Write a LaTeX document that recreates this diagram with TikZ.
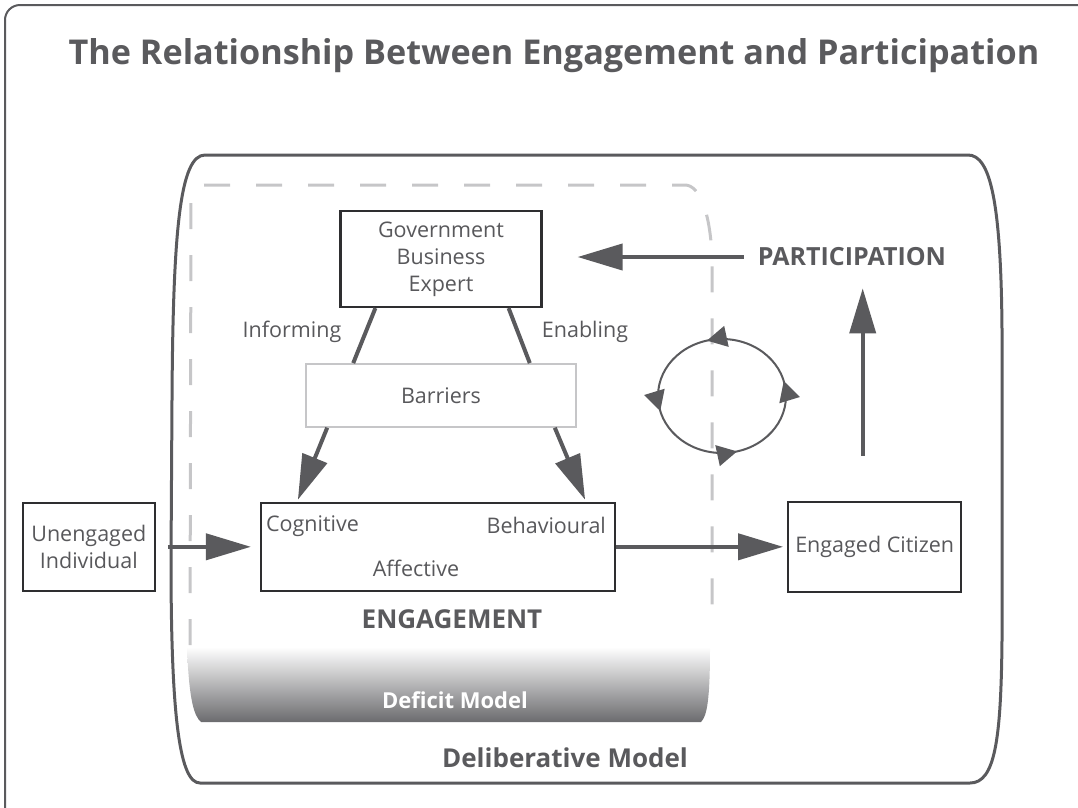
\documentclass[tikz,border=0pt]{standalone}
\usepackage{fontspec}
\setmainfont{Open Sans}
\usetikzlibrary{arrows.meta,positioning,decorations.markings}
\definecolor{EngGrey}{HTML}{5A5A5D}
\definecolor{EngDark}{HTML}{2E2E30}
\definecolor{EngLight}{HTML}{C6C6C8}
\definecolor{EngText}{HTML}{58585B}
\definecolor{EngShade}{HTML}{6B6B6E}

\begin{document}
\begin{tikzpicture}[
  x=1pt, y=-1pt,
  box/.style={draw=EngDark, line width=2.2pt, text=EngText, align=center, inner sep=0pt, font=\fontsize{21.5}{27}\selectfont},
  barrier/.style={box, draw=EngLight, line width=1.6pt},
  tag/.style={text=EngText, inner sep=2pt, font=\fontsize{21.5}{25}\selectfont},
  heading/.style={text=EngGrey, inner sep=2pt, font=\fontsize{25}{28}\selectfont\bfseries},
  frame/.style={draw=EngGrey, line width=3pt},
  link/.style={draw=EngGrey, line width=4pt},
  arrow/.style={-{Triangle[length=45pt,width=26pt]}, line width=4pt, draw=EngGrey},
  loopy/.style={draw=EngGrey, line width=2pt, postaction={decorate},
    decoration={markings,
      mark=at position 0.04 with {\arrow{Triangle[length=20pt,width=21pt]}},
      mark=at position 0.29 with {\arrow{Triangle[length=20pt,width=21pt]}},
      mark=at position 0.54 with {\arrow{Triangle[length=20pt,width=21pt]}},
      mark=at position 0.79 with {\arrow{Triangle[length=20pt,width=21pt]}}}}
]
  \useasboundingbox (0,0) rectangle (1078,807);
  \clip (0,0) rectangle (1078,807);
  \draw[draw=EngGrey, line width=2pt, rounded corners=15pt] (5,5) rectangle (1100,830);
  \node[heading, font=\fontsize{34.2}{40}\selectfont\bfseries] (title) at (554,56) {The Relationship Between Engagement and Participation};

  % deliberative model frame
  \draw[frame] (205,155) -- (968,155) .. controls (990,155) and (1001,200) .. (1002,330)
    -- (1002,640) .. controls (1001,740) and (995,783) .. (970,783)
    -- (200,783) .. controls (180,783) and (171,720) .. (171,560)
    -- (172,400) .. controls (173,230) and (180,155) .. (205,155) -- cycle;
  % deficit model, dashed and shaded
  \draw[draw=EngLight, line width=3pt, dash pattern=on 26pt off 26pt]
    (190,645) -- (191,200) .. controls (191,190) and (194,185) .. (205,185)
    -- (685,185) .. controls (700,185) and (711,215) .. (712,260) -- (712,622);
  \shade[top color=white, bottom color=EngShade] (187,647) -- (710,647)
    .. controls (710,700) and (707,716) .. (701,722) -- (201,722)
    .. controls (194,716) and (189,700) .. (187,647) -- cycle;

  \node[box, minimum width=201pt, minimum height=96pt] (gov) at (441,259) {Government\\Business\\Expert};
  \node[barrier, minimum width=270pt, minimum height=63pt, below=55pt of gov] (barriers) {Barriers};
  \node[box, minimum width=354pt, minimum height=88pt, below=74pt of barriers, xshift=-3pt] (engage) {};
  \node[box, minimum width=132pt, minimum height=88pt, left=104pt of engage] (unengaged) {Unengaged\\Individual};
  \node[box, minimum width=173pt, minimum height=90pt, right=171pt of engage] (citizen) {Engaged Citizen};
  \node[tag, anchor=west] (cognitive) at ([xshift=4pt,yshift=-24pt]engage.north west) {Cognitive};
  \node[tag, anchor=east] (behavioural) at ([xshift=-8pt,yshift=-24pt]engage.north east) {Behavioural};
  \node[tag] (affective) at ([xshift=-22pt,yshift=-22pt]engage.center) {Affective};
  \node[tag] (informing) at (292,332) {Informing};
  \node[tag] (enabling) at (585,332) {Enabling};
  \node[heading] (participation) at (852,257) {PARTICIPATION};
  \node[heading, font=\fontsize{26}{28}\selectfont\bfseries] (engagement) at (452,619) {ENGAGEMENT};
  \node[heading, text=white, font=\fontsize{22}{26}\selectfont\bfseries] (deficit) at (455,700) {Deficit Model};
  \node[heading, font=\fontsize{26}{28}\selectfont\bfseries] (deliberative) at (565,758) {Deliberative Model};

  \draw[link] ([xshift=36pt]gov.south west) -- ([xshift=48pt]barriers.north west);
  \draw[link] ([xshift=-34pt]gov.south east) -- ([xshift=-47pt]barriers.north east);
  \draw[arrow] ([xshift=22pt]barriers.south west) -- ([xshift=38pt,yshift=2pt]engage.north west);
  \draw[arrow] ([xshift=-22pt]barriers.south east) -- ([xshift=-31pt,yshift=2pt]engage.north east);
  \draw[arrow, shorten <=12pt, shorten >=9pt] (unengaged) -- (engage);
  \draw[arrow, shorten >=4pt] (engage) -- (citizen);
  \draw[arrow, shorten <=12pt, shorten >=35pt] (participation.west) -- (participation.west -| gov.east);
  \coordinate (rise) at ([xshift=-12pt]citizen.north);
  \draw[arrow, shorten <=45pt, shorten >=20pt] (rise) -- (rise |- participation.south);

  % the engagement cycle
  \coordinate (loopc) at (722,396);
  \draw[loopy] (loopc) ellipse[x radius=64pt, y radius=57pt];
\end{tikzpicture}
\end{document}
